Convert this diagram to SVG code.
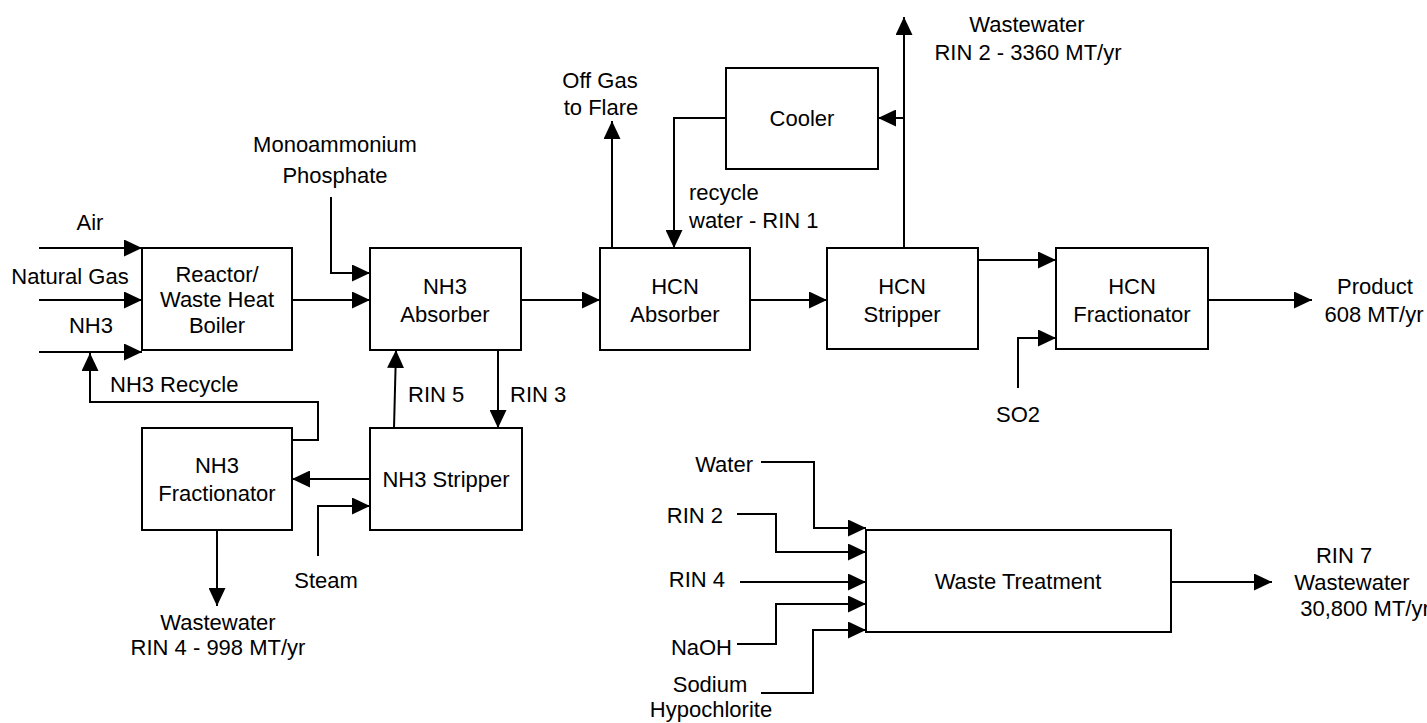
<svg xmlns="http://www.w3.org/2000/svg" width="1427" height="723" viewBox="0 0 1427 723">
<style>
text{font-family:"Liberation Sans",Arial,sans-serif;font-size:22px;fill:#000}
.c{text-anchor:middle}
.e{text-anchor:end}
.box{fill:#fff;stroke:#000;stroke-width:2}
.ln{fill:none;stroke:#000;stroke-width:2}
.ar{fill:none;stroke:#000;stroke-width:2;marker-end:url(#ah)}
</style>
<defs>
<marker id="ah" markerUnits="userSpaceOnUse" markerWidth="18" markerHeight="17" refX="18" refY="8.5" orient="auto" viewBox="0 0 18 17">
<path d="M0,0 L18,8.5 L0,17 z" fill="#000"/>
</marker>
</defs>
<rect width="1427" height="723" fill="#fff"/>
<g id="connectors">
<path class="ar" d="M39,248 H142"/>
<path class="ar" d="M39,300 H142"/>
<path class="ar" d="M39,352 H142"/>
<path class="ar" d="M318,440 H318 M292,440 H318 V402 H90 V353"/>
<path class="ar" d="M292,300 H370"/>
<path class="ar" d="M331,197 V273 H370"/>
<path class="ar" d="M394,428 L396,350"/>
<path class="ar" d="M498,350 V428"/>
<path class="ar" d="M370,479 H292"/>
<path class="ar" d="M318,556 V506 H370"/>
<path class="ar" d="M217,530 V606"/>
<path class="ar" d="M521,300 H600"/>
<path class="ar" d="M612,248 V121"/>
<path class="ar" d="M726,118 H674 V248"/>
<path class="ar" d="M904,248 V17"/>
<path class="ar" d="M904,118 H878"/>
<path class="ar" d="M750,300 H827"/>
<path class="ar" d="M978,260 H1056"/>
<path class="ar" d="M1018,388 V338 H1056"/>
<path class="ar" d="M1208,300 H1312"/>
<path class="ar" d="M761,462 H814 V528 H866"/>
<path class="ar" d="M737,514 H776 V552 H866"/>
<path class="ar" d="M740,582 H866"/>
<path class="ar" d="M737,644 H776 V604 H866"/>
<path class="ar" d="M761,693 H813 V630 H866"/>
<path class="ar" d="M1171,582 H1272"/>
</g>
<g id="reactor">
<rect class="box" x="142" y="248" width="150" height="102"/>
<text class="c" x="217" y="282">Reactor/</text>
<text class="c" x="217" y="307">Waste Heat</text>
<text class="c" x="217" y="333">Boiler</text>
</g>
<g id="nh3-absorber">
<rect class="box" x="370" y="248" width="151" height="102"/>
<text class="c" x="445" y="294">NH3</text>
<text class="c" x="445" y="322">Absorber</text>
</g>
<g id="hcn-absorber">
<rect class="box" x="600" y="248" width="150" height="102"/>
<text class="c" x="675" y="294">HCN</text>
<text class="c" x="675" y="322">Absorber</text>
</g>
<g id="hcn-stripper">
<rect class="box" x="827" y="248" width="151" height="101"/>
<text class="c" x="902" y="294">HCN</text>
<text class="c" x="902" y="322">Stripper</text>
</g>
<g id="hcn-fractionator">
<rect class="box" x="1056" y="248" width="152" height="101"/>
<text class="c" x="1132" y="294">HCN</text>
<text class="c" x="1132" y="322">Fractionator</text>
</g>
<g id="cooler">
<rect class="box" x="726" y="68" width="152" height="101"/>
<text class="c" x="802" y="126">Cooler</text>
</g>
<g id="nh3-fractionator">
<rect class="box" x="142" y="428" width="150" height="102"/>
<text class="c" x="217" y="473">NH3</text>
<text class="c" x="217" y="501">Fractionator</text>
</g>
<g id="nh3-stripper">
<rect class="box" x="370" y="428" width="152" height="102"/>
<text class="c" x="446" y="487">NH3 Stripper</text>
</g>
<g id="waste-treatment">
<rect class="box" x="866" y="530" width="305" height="102"/>
<text class="c" x="1018" y="589">Waste Treatment</text>
</g>
<g id="labels">
<text class="c" x="90" y="230">Air</text>
<text class="c" x="70" y="284">Natural Gas</text>
<text class="c" x="91" y="333">NH3</text>
<text x="110" y="392">NH3 Recycle</text>
<text class="c" x="335" y="152">Monoammonium</text>
<text class="c" x="335" y="183">Phosphate</text>
<text x="408" y="402">RIN 5</text>
<text x="510" y="402">RIN 3</text>
<text class="c" x="326" y="588">Steam</text>
<text class="c" x="218" y="630">Wastewater</text>
<text class="c" x="218" y="655">RIN 4 - 998 MT/yr</text>
<text class="c" x="600" y="88">Off Gas</text>
<text class="c" x="601" y="115">to Flare</text>
<text x="689" y="200">recycle</text>
<text x="689" y="228">water - RIN 1</text>
<text class="c" x="1027" y="32">Wastewater</text>
<text class="c" x="1028" y="60">RIN 2 - 3360 MT/yr</text>
<text class="c" x="1018" y="422">SO2</text>
<text class="c" x="1375" y="294">Product</text>
<text class="c" x="1374" y="322">608 MT/yr</text>
<text class="e" x="753" y="472">Water</text>
<text class="e" x="723" y="523">RIN 2</text>
<text class="e" x="725" y="587">RIN 4</text>
<text class="e" x="732" y="655">NaOH</text>
<text class="c" x="710" y="692">Sodium</text>
<text class="c" x="711" y="717">Hypochlorite</text>
<text class="c" x="1344" y="563">RIN 7</text>
<text class="c" x="1352" y="590">Wastewater</text>
<text class="c" x="1365" y="616">30,800 MT/yr</text>
</g>
</svg>
